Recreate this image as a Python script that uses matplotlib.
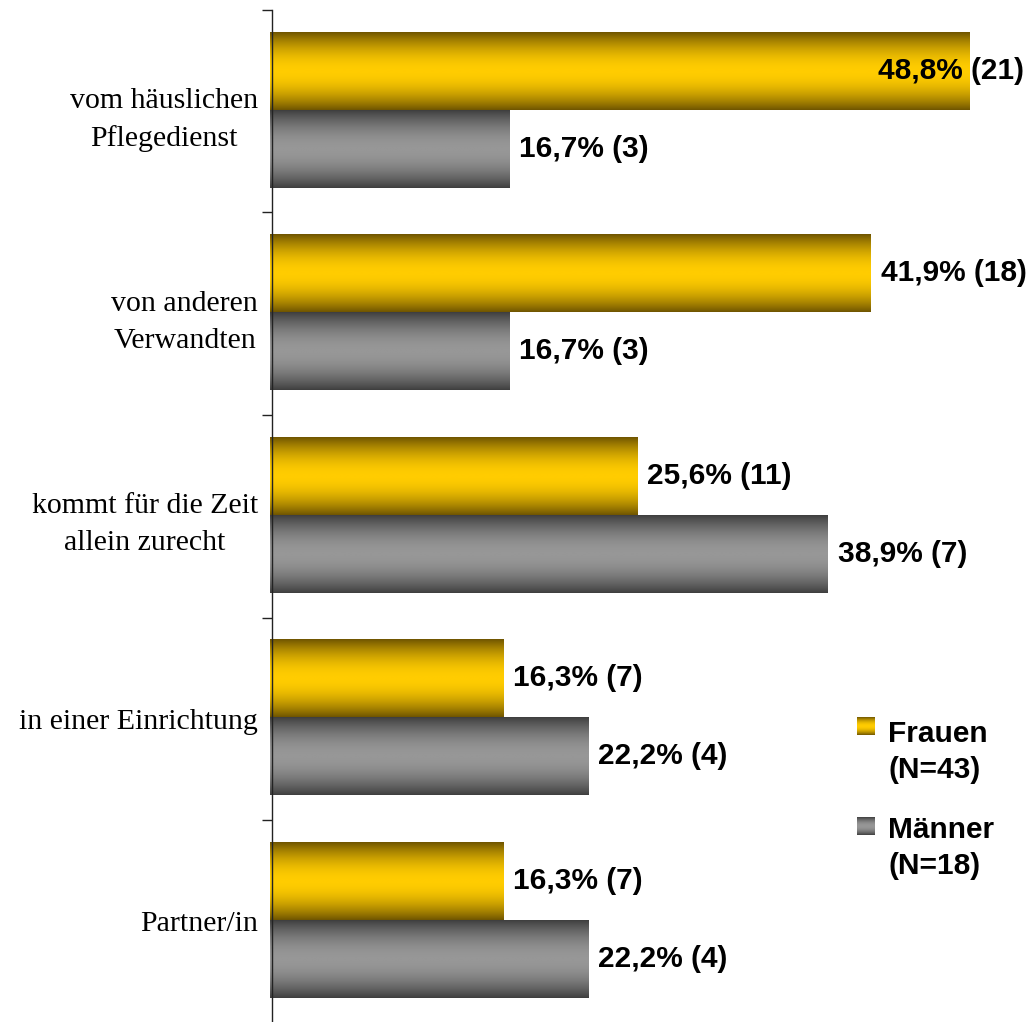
import numpy as np
import matplotlib
matplotlib.use("Agg")
import matplotlib.pyplot as plt
from matplotlib.colors import LinearSegmentedColormap

categories = ["vom häuslichen\nPflegedienst", "von anderen\nVerwandten",
              "kommt für die Zeit\nallein zurecht", "in einer Einrichtung", "Partner/in"]
frauen_pct = [48.8, 41.9, 25.6, 16.3, 16.3]
frauen_n = [21, 18, 11, 7, 7]
maenner_pct = [16.7, 16.7, 38.9, 22.2, 22.2]
maenner_n = [3, 3, 7, 4, 4]
series_names = ["Frauen\n(N=43)", "Männer\n(N=18)"]

gold_cmap = LinearSegmentedColormap.from_list("gold", ["#6E5400", "#FFCC00"])
gray_cmap = LinearSegmentedColormap.from_list("gray", ["#3E3E3E", "#979797"])

W, H = 1030, 1022
fig = plt.figure(figsize=(W / 100, H / 100), dpi=100)
ax_left = 270 / W
ax_top = 1 - 10 / H
ax_bottom = 1 - 1022.5 / H
ax = fig.add_axes([ax_left, ax_bottom, 1 - ax_left, ax_top - ax_bottom])

XMAX = 53.0
y = np.arange(len(categories))
h = 0.385

bars_f = ax.barh(y - 0.2, frauen_pct, height=h, color="none", edgecolor="none")
bars_m = ax.barh(y + 0.185, maenner_pct, height=h, color="none", edgecolor="none")

t = np.linspace(0, 1, 256)
profile = np.sin(np.pi * t) ** 0.9
grad = profile[:, None]

for bars, cmap in ((bars_f, gold_cmap), (bars_m, gray_cmap)):
    for p in bars:
        x0, y0, w, hh = p.get_x(), p.get_y(), p.get_width(), p.get_height()
        ax.imshow(grad, extent=[x0, x0 + w, y0 + hh, y0], aspect="auto",
                  cmap=cmap, vmin=0, vmax=1, interpolation="bilinear", zorder=2)

ax.set_xlim(0, XMAX)
ax.set_ylim(len(categories) - 0.5, -0.5)

# value labels
val_font = dict(family="Liberation Sans", weight="bold", size=21.5)
for bars, pcts, ns in ((bars_f, frauen_pct, frauen_n), (bars_m, maenner_pct, maenner_n)):
    for p, v, n in zip(bars, pcts, ns):
        label = f"{v:.1f}".replace(".", ",") + f"% ({n})"
        yc = p.get_y() + p.get_height() / 2
        if v > 45:
            ax.annotate(label, xy=(1.0, yc), xycoords=("axes fraction", "data"),
                        xytext=(-4, 0), textcoords="offset points",
                        ha="right", va="center", zorder=5, **val_font)
        else:
            ax.annotate(label, xy=(v, yc), xytext=(7, 0), textcoords="offset points",
                        ha="left", va="center", zorder=5, **val_font)

# axes styling
for s in ("top", "right", "bottom"):
    ax.spines[s].set_visible(False)
ax.spines["left"].set_linewidth(1.0)
ax.spines["left"].set_color("#222222")
ax.spines["left"].set_position(("outward", -1.5))
ax.set_xticks([])
ax.set_yticks(y)
ax.set_yticklabels(categories, family="Liberation Serif", size=21.5,
                   multialignment="center", linespacing=1.55)
ax.tick_params(axis="y", which="major", length=0, pad=10)
ax.set_yticks(np.arange(len(categories) + 1) - 0.5, minor=True)
ax.tick_params(axis="y", which="minor", length=7, width=1.0, color="#222222")

# legend (manual)
leg_items = [(series_names[0], gold_cmap, 726, 738), (series_names[1], gray_cmap, 826, 834)]
for name, cmap, ysq, ytxt in leg_items:
    lax = fig.add_axes([857 / W, 1 - (ysq + 9) / H, 18 / W, 18 / H])
    lax.imshow(grad, aspect="auto", cmap=cmap, vmin=0, vmax=1, interpolation="bilinear")
    lax.axis("off")
    fig.text(888 / W, 1 - (ytxt - 18) / H, name, ha="left", va="top",
             family="Liberation Sans", weight="bold", size=21.5, linespacing=1.35)

fig.savefig("out.png", dpi=100)
